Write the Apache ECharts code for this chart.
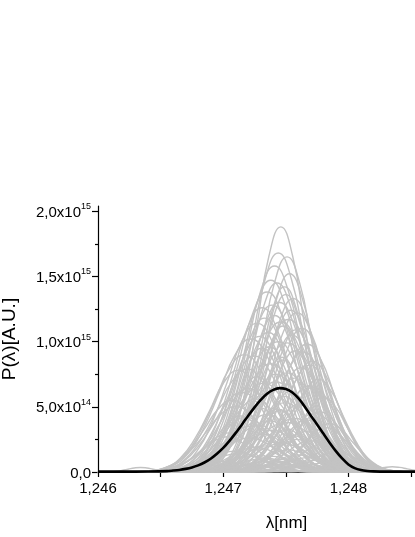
<!DOCTYPE html>
<html>
<head>
<meta charset="utf-8">
<script src="https://cdn.jsdelivr.net/npm/echarts@6/dist/echarts.min.js"></script>
<style>
html,body{margin:0;padding:0;background:#fff;}
#chart{width:415px;height:537px;}
</style>
</head>
<body>
<div id="chart"></div>
<script>
// ---- data (power in units of 1e15 A.U., wavelength in nm) ----
// mean spectrum (black)
const meanLambda = [1.2460,1.2462,1.2464,1.24655,1.2466,1.24665,1.2467,1.24675,1.2468,1.24685,1.2469,1.24695,1.2470,1.24705,1.2471,1.24715,1.2472,1.24725,1.2473,1.24735,1.2474,1.24745,
  1.2475,1.24755,1.2476,1.24765,1.2477,1.24775,1.2478,1.24785,1.2479,1.24795,1.2480,1.24805,1.2481,1.24815,1.2482,1.2483,1.2484,1.24854];
const meanPower  = [0.003,0.003,0.004,0.007,0.011,0.016,0.024,0.035,0.051,0.073,0.102,0.140,0.185,0.239,0.300,0.365,0.432,0.496,0.553,0.600,0.630,0.643,
  0.636,0.612,0.566,0.503,0.432,0.365,0.295,0.225,0.160,0.104,0.058,0.030,0.015,0.008,0.005,0.003,0.003,0.003];

// single-shot spectra (grey): peak height, peak wavelength, line width
const grayPeaks = [1.88,1.68,1.65,1.58,1.52,1.47,1.42,1.38,1.33,1.30,1.26,1.22,1.20,1.17,1.14,1.12,1.10,1.07,1.05,1.02,
  1.00,0.98,0.95,0.93,0.90,0.88,0.85,0.83,0.80,0.78,0.76,0.73,0.71,0.69,0.66,0.64,0.62,0.60,0.57,0.55,
  0.53,0.51,0.49,0.47,0.45,0.43,0.41,0.39,0.37,0.35,0.33,0.31,0.29,0.27,0.25,0.23,0.21,0.19,0.17,0.15,
  0.14,0.12,0.11,0.10,0.09,0.08,0.07,0.06,0.05,0.04,0.035,0.04,
  1.45,1.36,1.28,1.24,1.18,1.15,1.09,1.04,0.99,0.96,0.92,0.89,0.86,0.82,0.79,0.75,0.72,0.68,0.65,0.61,
  0.58,0.56,0.52,0.50,0.48,0.46,0.44,0.42,0.40,0.38,0.36,0.34,0.32,0.30,0.28,0.26,0.24,0.22,0.20,0.18,
  0.16,0.13,0.12,0.10,0.09,0.08,0.07,0.06,0.05,0.03];
const grayCenters = [1.24746,1.24744,1.24751,1.24741,1.24753,1.24738,1.24749,1.24735,1.24756,1.24745,1.24731,1.24759,1.24741,1.24752,1.24727,1.24748,1.24763,1.24736,1.24755,1.24722,
  1.24744,1.24767,1.24731,1.24758,1.24717,1.24747,1.24771,1.24738,1.24762,1.24712,1.24751,1.24727,1.24776,1.24742,1.24768,1.24720,1.24754,1.24734,1.24780,1.24707,
  1.24749,1.24763,1.24729,1.24745,1.24773,1.24714,1.24757,1.24738,1.24785,1.24722,1.24751,1.24766,1.24733,1.24703,1.24759,1.24743,1.24779,1.24726,1.24752,1.24790,
  1.24712,1.24740,1.24769,1.24731,1.24756,1.24700,1.24782,1.24746,1.24722,1.24762,1.24634,1.24835,
  1.24743,1.24750,1.24739,1.24754,1.24733,1.24746,1.24758,1.24729,1.24751,1.24737,1.24764,1.24725,1.24748,1.24769,1.24719,1.24742,1.24757,1.24732,1.24772,1.24715,
  1.24749,1.24726,1.24761,1.24710,1.24744,1.24777,1.24735,1.24718,1.24766,1.24750,1.24728,1.24782,1.24739,1.24705,1.24756,1.24721,1.24770,1.24747,1.24734,1.24787,
  1.24709,1.24760,1.24725,1.24751,1.24774,1.24736,1.24715,1.24765,1.24742,1.24792];
const grayWidths = [0.00019,0.00021,0.00020,0.00022,0.00020,0.00022,0.00019,0.00023,0.00021,0.00022,0.00023,0.00022,0.00020,0.00024,0.00024,0.00019,0.00021,0.00021,0.00020,0.00025,
  0.00022,0.00022,0.00020,0.00021,0.00024,0.00018,0.00021,0.00023,0.00019,0.00023,0.00022,0.00020,0.00020,0.00024,0.00020,0.00022,0.00018,0.00022,0.00019,0.00022,
  0.00024,0.00019,0.00021,0.00017,0.00021,0.00020,0.00023,0.00018,0.00019,0.00023,0.00016,0.00021,0.00019,0.00020,0.00020,0.00025,0.00018,0.00021,0.00019,0.00019,
  0.00022,0.00017,0.00022,0.00020,0.00018,0.00020,0.00019,0.00024,0.00020,0.00018,0.00010,0.00012,
  0.00021,0.00019,0.00023,0.00020,0.00022,0.00024,0.00019,0.00022,0.00025,0.00020,0.00021,0.00023,0.00018,0.00020,0.00024,0.00022,0.00019,0.00025,0.00020,0.00023,
  0.00018,0.00022,0.00021,0.00024,0.00019,0.00020,0.00023,0.00021,0.00018,0.00025,0.00020,0.00019,0.00022,0.00021,0.00017,0.00024,0.00020,0.00023,0.00019,0.00018,
  0.00021,0.00020,0.00024,0.00016,0.00019,0.00022,0.00020,0.00018,0.00023,0.00017];
// normalised line shape, offsets in line-width units
const profileOffsets = [-4,-3.5,-3,-2.5,-2,-1.5,-1,-0.5,0,0.5,1,1.5,2,2.5,3,3.5,4];
const profileShape   = [0,0.003,0.013,0.045,0.14,0.33,0.6,0.88,1,0.88,0.6,0.33,0.14,0.045,0.013,0.003,0];

// axes
const xTickValues  = [1.2460,1.2465,1.2470,1.2475,1.2480,1.2485];
const xLabelValues = [1.246,1.247,1.248];
const yLabelValues = [0,0.5,1.0,1.5,2.0];
const yLabelMantissa = ['0,0','5,0','1,0','1,5','2,0'];
const yLabelExponent = ['','14','15','15','15'];
const yMinorValues = [0.25,0.75,1.25,1.75];

// ---- chart ----
const FONT = 'Liberation Sans, Arial, Helvetica, sans-serif';
const chart = echarts.init(document.getElementById('chart'), null, {renderer:'canvas'});

const series = [];
for (let i = 0; i < grayPeaks.length; i++) {
  const pts = profileOffsets.map((o, k) => [grayCenters[i] + o * grayWidths[i], grayPeaks[i] * profileShape[k]]);
  series.push({type:'line', data:pts, smooth:true, symbol:'none', silent:true, z:2,
    lineStyle:{color:'#c3c3c3', width:1.4}, xAxisIndex:0, yAxisIndex:0});
}
series.push({type:'line', data: meanLambda.map((x,i)=>[x, meanPower[i]]), smooth:0.3, symbol:'none', silent:true, z:5,
  lineStyle:{color:'#000', width:2.6}, xAxisIndex:0, yAxisIndex:0});

function yLabel(v){
  for (let i=0;i<yLabelValues.length;i++){
    if (Math.abs(yLabelValues[i]-v) < 1e-9){
      return yLabelExponent[i] ? '{b|' + yLabelMantissa[i] + 'x10}{s|' + yLabelExponent[i] + '}' : '{b|' + yLabelMantissa[i] + '}';
    }
  }
  return '';
}

const option = {
  animation:false,
  backgroundColor:'#fff',
  grid:{left:98, right:-1, top:206, bottom:65, containLabel:false, outerBoundsMode:'none'},
  xAxis:[{
    type:'value', min:1.246, max:1.24854,
    axisLine:{show:true, onZero:false, lineStyle:{color:'#000', width:1.2}},
    axisTick:{show:true, length:5, inside:false, lineStyle:{color:'#000', width:1.2}, customValues:xTickValues},
    axisLabel:{show:true, margin:9, color:'#000', fontSize:15, fontFamily:FONT, customValues:xLabelValues,
      formatter:v=>v.toFixed(3).replace('.', ',')},
    splitLine:{show:false}
  }],
  yAxis:[{
    type:'value', min:0, max:2.04,
    axisLine:{show:true, onZero:false, lineStyle:{color:'#000', width:1.2}},
    axisTick:{show:true, length:6, lineStyle:{color:'#000', width:1.2}, customValues:yLabelValues},
    axisLabel:{show:true, margin:7, color:'#000', fontFamily:FONT, customValues:yLabelValues, formatter:yLabel,
      rich:{ b:{fontSize:15, fontFamily:FONT, color:'#000', lineHeight:18, verticalAlign:'bottom'},
             s:{fontSize:9, fontFamily:FONT, color:'#000', lineHeight:9, verticalAlign:'top'} }},
    splitLine:{show:false},
    name:'P(λ)[A.U.]', nameLocation:'middle', nameGap:79, nameRotate:90,
    nameTextStyle:{color:'#000', fontSize:19, fontFamily:FONT}
  },{
    type:'value', min:0, max:2.04, position:'left',
    axisLine:{show:false},
    axisTick:{show:true, length:3, lineStyle:{color:'#000', width:1.2}, customValues:yMinorValues},
    axisLabel:{show:false}, splitLine:{show:false}
  }],
  graphic:[{type:'text', x:286.5, y:523, silent:true,
    style:{text:'λ[nm]', fontSize:17, fontFamily:FONT, fill:'#000', align:'center', verticalAlign:'middle'}}],
  series: series
};
chart.setOption(option);
</script>
</body>
</html>
